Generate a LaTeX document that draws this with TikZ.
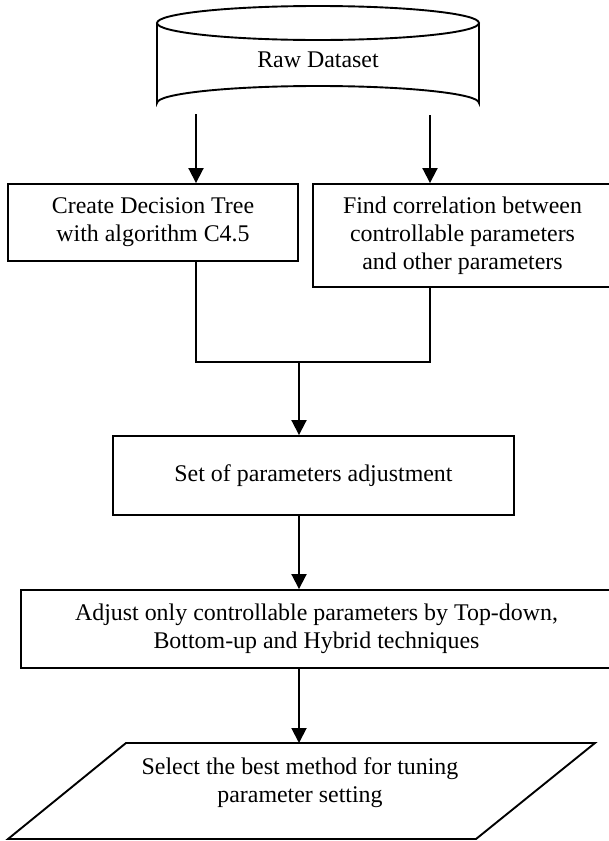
\documentclass[tikz,border=0pt]{standalone}
\usepackage{fontspec}
\setmainfont{Liberation Serif}
\usetikzlibrary{arrows.meta,calc}
\begin{document}
\begin{tikzpicture}[x=1pt,y=-1pt,
  line width=1.9pt,
  txt/.style={font=\fontsize{23.9}{28}\selectfont, align=center, inner sep=0pt},
  procbox/.style={draw, txt},
  arr/.style={-{Triangle[width=15pt,length=15pt]}}]
\useasboundingbox (0,0) rectangle (608,841);
% cylinder
\draw[fill=white] (157,23) -- (157,103) arc[start angle=180,end angle=360,x radius=161,y radius=17] -- (479,23);
\draw (318,23) ellipse[x radius=161,y radius=17];
\node[txt] (raw) at (318,60) {Raw Dataset};
\coordinate (c1) at (196,114);
\coordinate (c2) at (430,115);
% boxes
\node[procbox, minimum width=290pt, minimum height=77pt] (b1) at (153,222.5) {Create Decision Tree\\with algorithm C4.5};
\node[procbox, minimum width=299pt, minimum height=103pt] (b2) at (462.5,235.5) {Find correlation between\\controllable parameters\\and other parameters};
\node[procbox, minimum width=401pt, minimum height=79pt] (set) at (313.5,475.5) {Set of parameters adjustment};
\node[procbox, minimum width=591pt, minimum height=78pt] (adj) at (316.5,629) {Adjust only controllable parameters by Top-down,\\Bottom-up and Hybrid techniques};
% parallelogram
\coordinate (p1) at (126,743);
\coordinate (p2) at (595,743);
\coordinate (p3) at (476,839);
\coordinate (p4) at (8,839);
\draw (p1) -- (p2) -- (p3) -- (p4) -- cycle;
\node[txt] (sel) at (300,783) {Select the best method for tuning\\parameter setting};
\coordinate (ptop) at (299,743);
% connectors
\coordinate (j) at (299,362);
\draw[arr] (c1) -- (c1 |- b1.north);
\draw[arr] (c2) -- (c2 |- b2.north);
\draw (c1 |- b1.south) |- (j);
\draw (c2 |- b2.south) |- (j);
\draw[arr] (j) -- (j |- set.north);
\draw[arr] (j |- set.south) -- (j |- adj.north);
\draw[arr] (j |- adj.south) -- (ptop);
\end{tikzpicture}
\end{document}
